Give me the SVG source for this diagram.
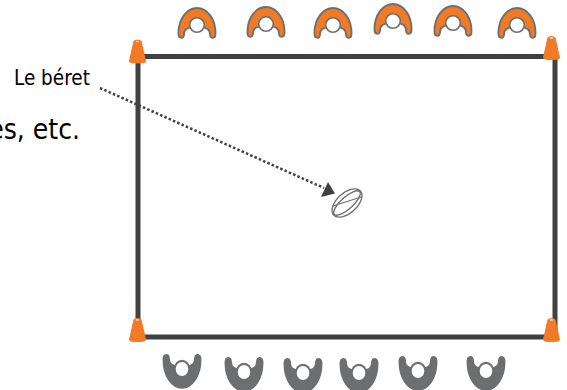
<svg xmlns="http://www.w3.org/2000/svg" width="567" height="390" viewBox="0 0 567 390">
<style>
.lbl{font-family:"DejaVu Sans Condensed","DejaVu Sans","Noto Sans",sans-serif;fill:#000}
.btop{fill:#f07a26;stroke:#6d6e70;stroke-width:1.800;stroke-linejoin:round}
.htop{fill:#fff;stroke:#6d6e70;stroke-width:1.600}
.bbot{fill:#6d6e70;stroke:#6d6e70;stroke-width:1.800;stroke-linejoin:round}
.hbot{fill:#fff;stroke:#6d6e70;stroke-width:2}
.field{fill:none;stroke:#404040;stroke-width:5}
.cone{fill:#f07a26;stroke:#f07a26;stroke-width:1;stroke-linejoin:round}
.ball{fill:#fff;stroke:#6d6e70;stroke-width:1.300}
</style>
<defs>
<path id="arch" d="M-18.500,9C-19,-6 -10,-17 0,-17C10,-17 19,-6 18.500,9C18.500,14 13,14 13,9.500C13,7 12,5 10.500,4L6,2L0,-5L-6,2L-10.500,4C-12,5 -13,7 -13,9.500C-13,14 -18.500,14 -18.500,9Z"/>
<g id="pt"><use href="#arch" class="btop"/><circle class="htop" cx="0" cy="0" r="7.300"/></g>
<g id="pb"><use href="#arch" class="bbot"/><circle class="hbot" cx="0" cy="0" r="7.300"/></g>
<g id="cn"><path class="cone" d="M-3.500,-10.500Q0,-12.500 3.500,-10.500L8,9.500Q8.500,11.500 0,11.500Q-8.500,11.500 -8,9.500Z"/><ellipse cx="0" cy="-10" rx="1.800" ry=".8" fill="#fde4d0"/></g>
</defs>
<text class="lbl" x="80" y="139" font-size="28" text-anchor="end">es, etc.</text>
<text class="lbl" x="14" y="85" font-size="20.500">Le béret</text>
<g id="connectors">
<path class="field" d="M138,56.500H555V337H138Z"/>
<path d="M100,88L324,188" fill="none" stroke="#404040" stroke-width="2.500" stroke-dasharray="2.500 2.200"/>
<path d="M328,182L335,193.500L321,197Z" fill="#404040"/>
</g>
<g id="ball"><ellipse class="ball" cx="347" cy="203" rx="18" ry="10" transform="rotate(-42 347 203)"/><ellipse class="ball" cx="347" cy="203" rx="17" ry="6" transform="rotate(-42 347 203)" fill="none"/><path class="ball" d="M333,206L361,197"/></g>
<g id="cone-tl"><use href="#cn" transform="translate(137.500,51.500)"/></g>
<g id="cone-tr"><use href="#cn" transform="translate(551.500,48)"/></g>
<g id="cone-bl"><use href="#cn" transform="translate(137.500,330)"/></g>
<g id="cone-br"><use href="#cn" transform="translate(551.500,330)"/></g>
<g id="top-1"><use href="#pt" transform="translate(197,25)"/></g>
<g id="top-2"><use href="#pt" transform="translate(266,24)"/></g>
<g id="top-3"><use href="#pt" transform="translate(333,25)"/></g>
<g id="top-4"><use href="#pt" transform="translate(393,21)"/></g>
<g id="top-5"><use href="#pt" transform="translate(453,23)"/></g>
<g id="top-6"><use href="#pt" transform="translate(517,25)"/></g>
<g id="bot-1"><use href="#pb" transform="translate(182,369) scale(1,-1.100)"/></g>
<g id="bot-2"><use href="#pb" transform="translate(244,372) scale(1,-1.100)"/></g>
<g id="bot-3"><use href="#pb" transform="translate(303,373) scale(1,-1.100)"/></g>
<g id="bot-4"><use href="#pb" transform="translate(359,373) scale(1,-1.100)"/></g>
<g id="bot-5"><use href="#pb" transform="translate(418,371) scale(1,-1.100)"/></g>
<g id="bot-6"><use href="#pb" transform="translate(486,371) scale(1,-1.100)"/></g>
</svg>
